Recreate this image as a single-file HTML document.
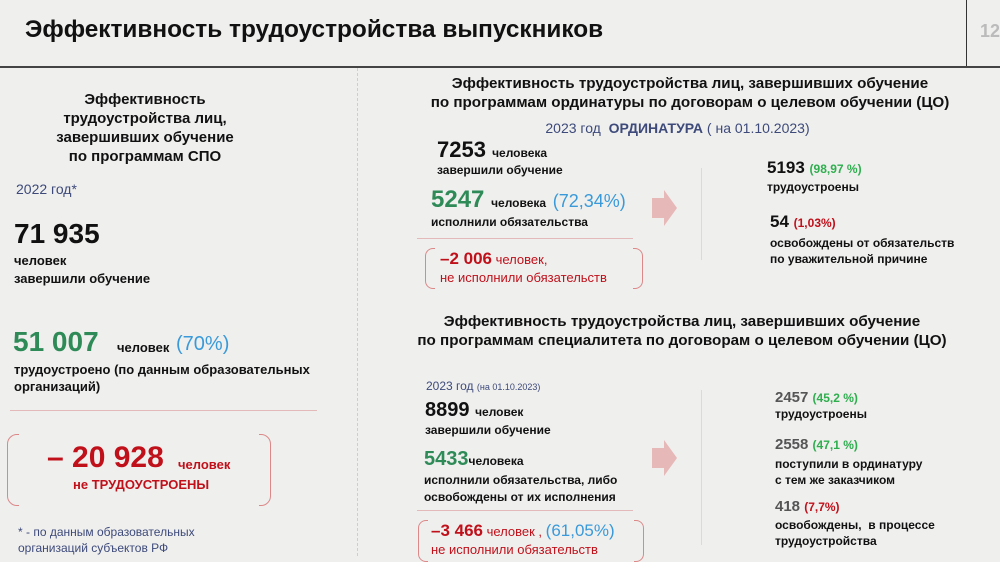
<!DOCTYPE html>
<html><head><meta charset="utf-8"><style>
body{margin:0;width:1000px;height:556px;background:#efefee;font-family:"Liberation Sans","DejaVu Sans",sans-serif;position:relative;overflow:hidden;color:#111}
.a{position:absolute;white-space:nowrap;line-height:1}
.b{font-weight:bold}
.g{color:#2e8a57}.r{color:#c0101a}.bl{color:#3a9ad9}.gr{color:#2fae4e}.n{color:#3d4a7a}
.c{text-align:center}
</style></head><body>
<div class="a b" style="left:25px;top:18px;font-size:24.4px">Эффективность трудоустройства выпускников</div>
<div class="a" style="left:966px;top:0;width:1px;height:66px;background:#333"></div>
<div class="a b" style="left:980px;top:22px;font-size:18px;color:#bbb">12</div>
<div class="a" style="left:0;top:66px;width:1000px;height:2px;background:#444"></div>
<div class="a" style="left:357px;top:68px;width:0;height:488px;border-left:1px dashed #e2c6c6"></div>

<div class="a b c" style="left:0;width:290px;top:90px;font-size:15px;line-height:19px">Эффективность<br>трудоустройства лиц,<br>завершивших обучение<br>по программам СПО</div>
<div class="a n" style="left:16px;top:182px;font-size:14px">2022 год*</div>
<div class="a b" style="left:14px;top:220px;font-size:28px">71 935</div>
<div class="a b" style="left:14px;top:252px;font-size:13px;line-height:18px">человек<br>завершили обучение</div>
<div class="a b g" style="left:13px;top:328px;font-size:28px">51 007</div>
<div class="a b" style="left:117px;top:341px;font-size:13px">человек</div>
<div class="a bl" style="left:176px;top:334px;font-size:20px">(70%)</div>
<div class="a b" style="left:14px;top:361px;font-size:13px;line-height:17px">трудоустроено (по данным образовательных<br>организаций)</div>
<div class="a" style="left:10px;top:410px;width:307px;height:1px;background:#e3b9b9"></div>
<div class="a" style="left:7px;top:434px;width:262px;height:70px;border:1px solid #d88;border-radius:10px;clip-path:polygon(0 0,12px 0,12px 100%,0 100%,0 0,100% 0,100% 100%,calc(100% - 12px) 100%,calc(100% - 12px) 0)"></div>
<div class="a b r" style="left:47px;top:443px;font-size:30px">– 20 928</div>
<div class="a b r" style="left:178px;top:458px;font-size:13px">человек</div>
<div class="a b r" style="left:73px;top:478px;font-size:13px">не ТРУДОУСТРОЕНЫ</div>
<div class="a n" style="left:18px;top:524px;font-size:12px;line-height:16px">* - по данным образовательных<br>организаций субъектов РФ</div>

<div class="a b c" style="left:370px;width:640px;top:74px;font-size:15.2px;line-height:19px">Эффективность трудоустройства лиц, завершивших обучение<br>по программам ординатуры по договорам о целевом обучении (ЦО)</div>
<div class="a n c" style="left:380px;width:595px;top:121px;font-size:14px">2023 год &nbsp;<b>ОРДИНАТУРА</b> ( на 01.10.2023)</div>
<div class="a b" style="left:437px;top:139px;font-size:22px">7253 <span style="font-size:12px">человека</span></div>
<div class="a b" style="left:437px;top:164px;font-size:12px">завершили обучение</div>
<div class="a b g" style="left:431px;top:188px;font-size:24px">5247 <span style="font-size:12px;color:#111">человека</span> <span class="bl" style="font-size:18px;font-weight:normal">(72,34%)</span></div>
<div class="a b" style="left:431px;top:216px;font-size:12px">исполнили обязательства</div>
<div class="a" style="left:417px;top:238px;width:216px;height:1px;background:#e3b9b9"></div>
<div class="a" style="left:425px;top:248px;width:216px;height:39px;border:1px solid #d88;border-radius:8px;clip-path:polygon(0 0,10px 0,10px 100%,0 100%,0 0,100% 0,100% 100%,calc(100% - 10px) 100%,calc(100% - 10px) 0)"></div>
<div class="a r" style="left:440px;top:250px;font-size:13px"><b style="font-size:17px">–2 006</b> человек,</div>
<div class="a r" style="left:440px;top:271px;font-size:13px">не исполнили обязательств</div>
<svg class="a" style="left:650px;top:188px" width="30" height="40"><polygon points="2,10 14,10 14,2 27,20 14,38 14,30 2,30" fill="#e6b8b8"/></svg>
<div class="a" style="left:701px;top:168px;width:1px;height:92px;background:#ecd2d2"></div>
<div class="a b" style="left:767px;top:159px;font-size:17px">5193 <span class="gr" style="font-size:12px">(98,97 %)</span></div>
<div class="a b" style="left:767px;top:181px;font-size:12px">трудоустроены</div>
<div class="a b" style="left:770px;top:213px;font-size:17px">54 <span class="r" style="font-size:12px">(1,03%)</span></div>
<div class="a b" style="left:770px;top:235px;font-size:12px;line-height:16px">освобождены от обязательств<br>по уважительной причине</div>

<div class="a b c" style="left:362px;width:640px;top:312px;font-size:15.2px;line-height:19px">Эффективность трудоустройства лиц, завершивших обучение<br>по программам специалитета по договорам о целевом обучении (ЦО)</div>
<div class="a n" style="left:426px;top:380px;font-size:12px">2023 год <span style="font-size:9px">(на 01.10.2023)</span></div>
<div class="a b" style="left:425px;top:400px;font-size:20px">8899 <span style="font-size:12px">человек</span></div>
<div class="a b" style="left:425px;top:424px;font-size:12px">завершили обучение</div>
<div class="a b g" style="left:424px;top:449px;font-size:20px">5433<span style="font-size:12px;color:#111">человека</span></div>
<div class="a b" style="left:424px;top:472px;font-size:12px;line-height:17px">исполнили обязательства, либо<br>освобождены от их исполнения</div>
<div class="a" style="left:417px;top:510px;width:216px;height:1px;background:#e3b9b9"></div>
<div class="a" style="left:418px;top:520px;width:224px;height:40px;border:1px solid #d88;border-radius:8px;clip-path:polygon(0 0,10px 0,10px 100%,0 100%,0 0,100% 0,100% 100%,calc(100% - 10px) 100%,calc(100% - 10px) 0)"></div>
<div class="a r" style="left:431px;top:522px;font-size:13px"><b style="font-size:17px">–3 466</b> человек , <span class="bl" style="font-size:17px">(61,05%)</span></div>
<div class="a r" style="left:431px;top:543px;font-size:13px">не исполнили обязательств</div>
<svg class="a" style="left:650px;top:438px" width="30" height="40"><polygon points="2,10 14,10 14,2 27,20 14,38 14,30 2,30" fill="#e6b8b8"/></svg>
<div class="a" style="left:701px;top:390px;width:1px;height:155px;background:#ecd2d2"></div>
<div class="a b" style="left:775px;top:390px;font-size:15px"><span style="color:#555">2457</span> <span class="gr" style="font-size:12px">(45,2 %)</span></div>
<div class="a b" style="left:775px;top:408px;font-size:12px">трудоустроены</div>
<div class="a b" style="left:775px;top:437px;font-size:15px"><span style="color:#555">2558</span> <span class="gr" style="font-size:12px">(47,1 %)</span></div>
<div class="a b" style="left:775px;top:456px;font-size:12px;line-height:16px">поступили в ординатуру<br>с тем же заказчиком</div>
<div class="a b" style="left:775px;top:499px;font-size:15px"><span style="color:#555">418</span> <span class="r" style="font-size:12px">(7,7%)</span></div>
<div class="a b" style="left:775px;top:517px;font-size:12px;line-height:16px">освобождены, &nbsp;в процессе<br>трудоустройства</div>
</body></html>
